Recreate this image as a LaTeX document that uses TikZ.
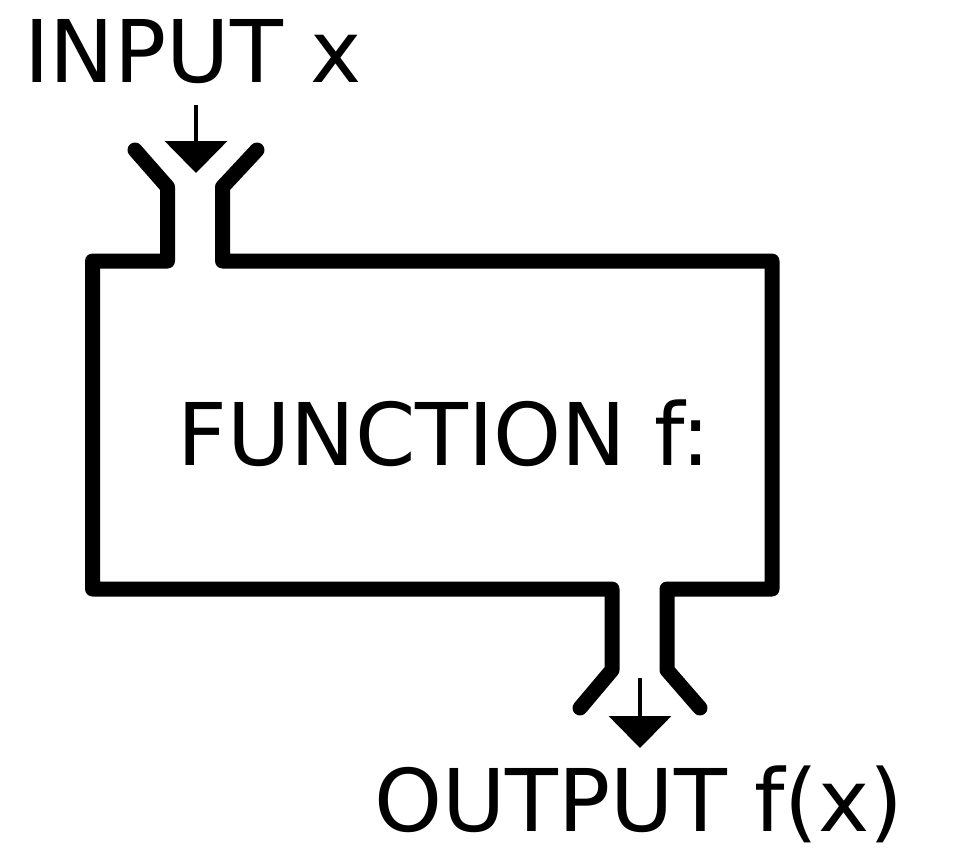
\documentclass[tikz,border=0pt]{standalone}
\usepackage{fontspec}
\setmainfont{DejaVu Sans}
\usetikzlibrary{arrows.meta}

\begin{document}
\begin{tikzpicture}[x=1pt,y=-1pt,
    pipe/.style={black,line width=15pt,line join=round,line cap=round},
    feed/.style={black,line width=4pt,-{Triangle[width=62pt,length=32pt]}},
    word/.style={inner sep=0pt,anchor=base,font=\fontsize{86.5}{90}\selectfont}]
    \useasboundingbox (0,0) rectangle (964,851);
    \fill [white] (0,0) rectangle (964,851);
    % texts
    \node [word] (input) at (193,82) {INPUT x};
    \node [word] (func) at (444,465) {FUNCTION f:};
    \node [word] (output) at (639,831) {OUTPUT f(x)};
    % funnel mouths
    \coordinate (inTop) at (196,105);
    \coordinate (inTip) at (196,173);
    \coordinate (outTop) at (640,678);
    \coordinate (outTip) at (640,748);
    % box with input and output funnels
    \draw [pipe] (135,150) -- (167.5,187) -- (167.5,261) -- (92.5,261)
        -- (92.5,589) -- (612,589) -- (612,670) -- (580,708);
    \draw [pipe] (257,150) -- (222.5,187) -- (222.5,261) -- (772,261)
        -- (772,589) -- (667,589) -- (667,670) -- (700,708);
    % arrows
    \draw [feed] (inTop) -- (inTip);
    \draw [feed] (outTop) -- (outTip);
\end{tikzpicture}
\end{document}
